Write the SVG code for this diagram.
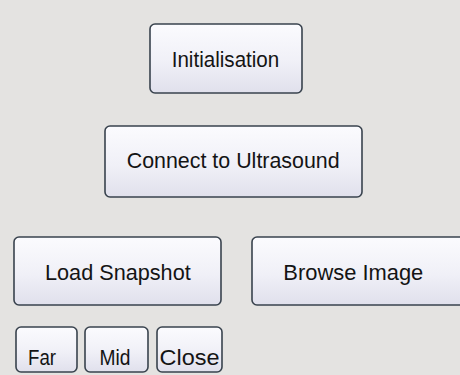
<svg xmlns="http://www.w3.org/2000/svg" width="460" height="375" viewBox="0 0 460 375">
  <defs>
    <linearGradient id="btnFill" x1="0" y1="0" x2="0" y2="1">
      <stop offset="0" stop-color="#fbfbfe"/>
      <stop offset="0.55" stop-color="#f0f0f7"/>
      <stop offset="1" stop-color="#e0e0ec"/>
    </linearGradient>
    <style>
      .btn { fill: url(#btnFill); stroke: #39434e; stroke-width: 1.6; }
      .lbl { font-family: "Liberation Sans", Arial, sans-serif; font-size: 22.5px; fill: #141414; }
    </style>
  </defs>
  <rect x="0" y="0" width="460" height="375" fill="#e4e3e1"/>

  <g id="connectors"></g>

  <g id="btn-initialisation">
    <rect class="btn" x="150" y="24" width="152" height="69" rx="5"/>
    <text class="lbl" x="171.7" y="67" textLength="107.6" lengthAdjust="spacingAndGlyphs">Initialisation</text>
  </g>
  <g id="btn-connect">
    <rect class="btn" x="105" y="126" width="257" height="71" rx="5"/>
    <text class="lbl" x="126.7" y="168.3" textLength="213" lengthAdjust="spacingAndGlyphs">Connect to Ultrasound</text>
  </g>
  <g id="btn-load">
    <rect class="btn" x="14" y="237" width="207" height="68" rx="5"/>
    <text class="lbl" x="45" y="280" textLength="145.7" lengthAdjust="spacingAndGlyphs">Load Snapshot</text>
  </g>
  <g id="btn-browse">
    <rect class="btn" x="252" y="237" width="220" height="68" rx="5"/>
    <text class="lbl" x="283.3" y="280" textLength="140" lengthAdjust="spacingAndGlyphs">Browse Image</text>
  </g>
  <g id="btn-far">
    <rect class="btn" x="16" y="327" width="61" height="45" rx="5"/>
    <text class="lbl" x="28" y="365" textLength="28" lengthAdjust="spacingAndGlyphs">Far</text>
  </g>
  <g id="btn-mid">
    <rect class="btn" x="85" y="327" width="63" height="45" rx="5"/>
    <text class="lbl" x="99.5" y="365" textLength="31" lengthAdjust="spacingAndGlyphs">Mid</text>
  </g>
  <g id="btn-close">
    <rect class="btn" x="157" y="327" width="65" height="45" rx="5"/>
    <text class="lbl" x="159.5" y="365" textLength="60" lengthAdjust="spacingAndGlyphs">Close</text>
  </g>
</svg>
